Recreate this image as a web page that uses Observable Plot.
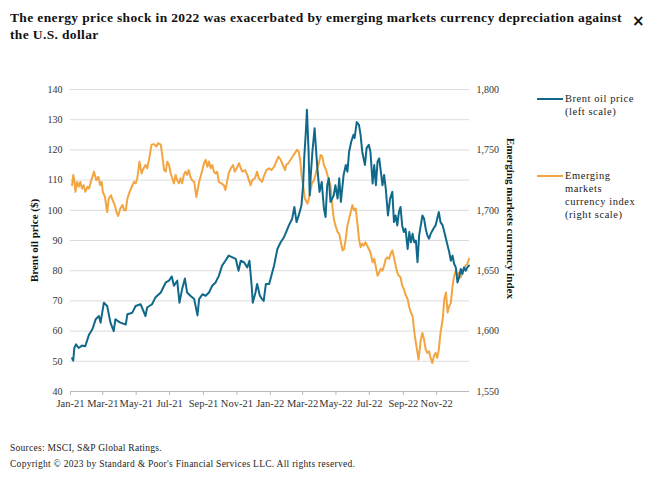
<!DOCTYPE html>
<html>
<head>
<meta charset="utf-8">
<script src="https://cdn.jsdelivr.net/npm/d3@7"></script>
<script src="https://cdn.jsdelivr.net/npm/@observablehq/plot@0.6"></script>
<style>
  html, body { margin: 0; padding: 0; background: #fff; }
  #wrap { position: relative; width: 660px; height: 488px; font-family: "Liberation Serif", "DejaVu Serif", serif; color: #111; }
  #title { position: absolute; left: 10px; top: 9px; font-size: 13.5px; font-weight: bold; line-height: 17px; letter-spacing: 0.36px; }
  #close { position: absolute; left: 632px; top: 12px; font-family: "DejaVu Sans", sans-serif; font-size: 15px; font-weight: bold; }
  #chart { position: absolute; left: 0; top: 50px; }
  .leg { position: absolute; font-size: 10.5px; line-height: 13px; letter-spacing: 0.55px; color: #222; }
  .swatch { position: absolute; height: 2px; width: 26px; }
  #foot { position: absolute; left: 10px; top: 440px; font-size: 9.5px; line-height: 16px; color: #222; letter-spacing: 0.27px; }
</style>
</head>
<body>
<div id="wrap">
  <div id="title">The energy price shock in 2022 was exacerbated by emerging markets currency depreciation against<br>the U.S. dollar</div>
  <div id="close">×</div>
  <div id="chart"></div>
  <div class="swatch" style="left:537px;top:98px;background:#10698a"></div>
  <div class="leg" style="left:565px;top:92px">Brent oil price<br>(left scale)</div>
  <div class="swatch" style="left:537px;top:175px;background:#f2a541"></div>
  <div class="leg" style="left:565px;top:169px">Emerging<br>markets<br>currency index<br>(right scale)</div>
  <div id="foot">Sources: MSCI, S&amp;P Global Ratings.<br>Copyright © 2023 by Standard &amp; Poor's Financial Services LLC. All rights reserved.</div>
</div>
<script>
// Days since 2021-01-01 and Brent oil price ($)
const brentDay = [3,5,7,10,15,21,27,34,40,46,52,55,61,67,73,79,82,91,101,104,113,119,128,137,140,149,155,165,174,180,185,189,195,199,204,209,213,219,226,
  232,235,241,247,253,259,265,271,277,283,289,296,302,307,311,317,323,327,331,333,338,341,346,350,353,357,363,367,372,378,384,390,394,399,405,409,413,417,422,425,427,430,432,435,437,439,442,446,448,451,455,459,463,466,469,472,
  475,481,484,488,491,494,499,503,506,509,513,517,519,523,527,530,533,538,541,545,548,552,555,558,561,564,567,570,573,576,580,584,588,591,594,597,600,603,606,609,612,616,619,622,625,628,631,634,637,640,643,646,649,652,655,658,663,667,670,673,676,680,683,686,689,692,695,698,701,704,707,710,713,716,719,722,725,728];
const brentPrice = [51,50.2,54.4,55.6,54.4,55.2,55,58.9,60.6,63.9,65,62.8,69.4,68.3,62.8,60,63.9,62.8,62.2,65.6,66.1,68.3,68.9,65,67.8,68.9,71.1,72.8,76.1,76.7,78.1,75,76.7,69.4,73.9,77.4,72.8,71.7,70.6,
  65.2,70.6,72.2,71.7,72.8,75,76.1,78.3,81.7,83.3,85,84.4,83.9,80,83.3,82.8,81.1,83.3,75,69.4,72.8,75.6,71.7,70.6,70,75.6,75.6,78.3,81.7,87.2,89.4,91.1,92.8,95,97.2,101.1,96.1,98.3,101.7,108.3,117.2,126.1,133.3,119.4,105,111.7,119.4,127.2,121.7,113.9,106.1,109.4,100.6,97.8,108.3,110.6,
  102.8,105,108.3,103.9,110.6,102.8,111.7,115,112.8,119.4,122.8,125,123.9,129.2,128.3,125,119.4,115,120.6,121.7,119.4,108.9,115,108.3,116.1,117.2,112.8,108.3,111.7,107.2,98.3,103.9,106.1,96.1,98.3,95,99.4,101.1,95,92.8,93.9,87.2,92.8,89.4,92.2,89.4,90,82.8,91.7,95,98.3,97.2,93.9,91.7,90.6,92.2,93.9,95,97.2,99.4,96.1,95,92.8,90.6,88.3,86.1,83.3,85,82.2,81.1,76.1,77.8,80.6,78.9,81.1,80,81.1,81.7];

// Days since 2021-01-01 and emerging markets currency index
const emDay = [3,5,7,9,12,15,18,21,24,27,31,34,37,43,47,51,54,57,59,63,67,70,74,77,81,84,87,91,95,98,101,104,108,112,116,119,122,126,130,132,137,140,144,148,152,157,160,165,168,171,174,177,180,183,186,189,192,195,198,201,204,207,210,213,216,219,222,226,230,
  235,240,244,247,250,253,256,259,262,265,268,271,276,280,283,286,289,293,297,300,305,308,311,314,319,323,326,329,332,337,341,344,347,350,353,358,363,367,372,376,380,384,388,392,394,398,402,406,410,414,417,420,422,425,428,433,437,441,445,449,453,457,460,463,467,471,475,478,
  481,484,488,491,494,497,500,503,506,509,512,515,518,521,524,527,530,533,536,539,542,545,548,552,555,558,561,564,567,570,573,576,579,582,585,588,591,594,597,600,603,606,609,612,616,619,622,625,628,631,634,636,640,643,646,649,652,655,658,661,664,667,670,673,676,680,683,686,689,692,695,698,701,704,707,710,713,716,719,722,725,728];
const emIndex = [1720.8,1729.3,1725,1715.3,1723.5,1719.5,1723.5,1718,1720.8,1715.3,1719.5,1718,1723.5,1732,1725,1727.8,1720.8,1723.5,1715.3,1711,1698.5,1709.8,1712.5,1708.3,1704.3,1698.5,1695.3,1701.5,1704.3,1700,1700,1709.8,1715.3,1719.5,1723.5,1722.3,1726.5,1740.3,1730.5,1733.3,1737.5,1734.8,1743,1754.3,1754.8,1752.8,1755.5,1754.3,1744.5,1733.3,1732,1740.3,1737.5,1730.5,1726.5,1722.3,1729.3,1725,1722.3,1726.5,1722.3,1729.3,1732,1729.3,1733.3,1727.8,1725,1723.5,1711,
  1723.5,1732,1739,1741.8,1736,1740.3,1734.8,1737.5,1732,1730.5,1732,1723.5,1722.3,1720.8,1716.8,1723.5,1730.5,1734.8,1737.5,1732,1736,1739,1734.8,1732,1733.3,1729.3,1725,1720.8,1725,1726.5,1732,1726.5,1725,1723.5,1727.8,1733.3,1734.8,1733.3,1736,1740.3,1744.5,1741.8,1737.5,1733.3,1737.5,1739,1741.8,1744.5,1747.3,1750,1748.5,1740.3,1729.3,1720.8,1709.8,1705.5,1712.5,1722.3,1725,1732,1737.5,1745.8,1744.5,1737.5,1733.3,1726.5,1720.8,1705.5,
  1693,1687.5,1682,1680.5,1673.5,1666.8,1668,1676.5,1687.5,1693,1698.5,1704.3,1700,1701.5,1690.3,1676.5,1669.5,1672.3,1670.8,1673.5,1670.8,1668,1665.3,1657,1659.8,1652.8,1645.8,1648.5,1651.5,1650,1654.3,1659.8,1661,1659.8,1664,1666.8,1661,1654.3,1648.5,1645.8,1644.5,1637.5,1634.8,1630.5,1626.5,1619.5,1615.3,1612.5,1600,1590.3,1582,1576.5,1593,1598.5,1593,1584.8,1582,1583.3,1577.8,1573.5,1579.3,1582,1577.8,1584.8,1598.5,1609.8,1626.5,1632,1615.3,1620.8,1623.5,1637.5,1645.8,1650,1645.8,1648.5,1644.5,1650,1651.5,1654.3,1655.5,1659.8];

const leftTicks = [40,50,60,70,80,90,100,110,120,130,140];
const rightTicks = [1550,1600,1650,1700,1750,1800];
const monthTicks = ["2021-01-01","2021-03-01","2021-05-01","2021-07-01","2021-09-01","2021-11-01","2022-01-01","2022-03-01","2022-05-01","2022-07-01","2022-09-01","2022-11-01"];

const teal = "#10698a", orange = "#f2a541";
const t0 = Date.UTC(2021, 0, 1);
const toDate = d => new Date(t0 + d * 864e5);
const brent = brentDay.map((d, i) => ({date: toDate(d), value: brentPrice[i]}));
const em = emDay.map((d, i) => ({date: toDate(d), value: emIndex[i]}));
// right scale (1,550-1,800) aligned with left scale (40-140)
const rightToLeft = v => (v - 1450) / 2.5;
const leftToRight = v => 1450 + 2.5 * v;

const chart = Plot.plot({
  width: 660,
  height: 380,
  marginTop: 39,
  marginBottom: 39,
  marginLeft: 70,
  marginRight: 191,
  style: {fontFamily: "Liberation Serif, serif", fontSize: "10px", color: "#333", background: "transparent"},
  x: {type: "utc", domain: [new Date(t0), new Date(Date.UTC(2022, 11, 31))]},
  y: {domain: [40, 140]},
  marks: [
    Plot.gridY(leftTicks, {stroke: "#dcdcdc", strokeOpacity: 1, strokeWidth: 1}),
    Plot.ruleY([40], {stroke: "#b8b8b8"}),
    Plot.axisY(leftTicks, {anchor: "left", tickSize: 0, tickPadding: 8, label: null, fill: "#333"}),
    Plot.axisY(rightTicks.map(rightToLeft), {anchor: "right", tickSize: 0, tickPadding: 7, label: null, fill: "#333",
      tickFormat: v => d3.format(",")(Math.round(leftToRight(v)))}),
    Plot.axisX(monthTicks.map(s => new Date(s + "T00:00:00Z")), {tickSize: 4, tickPadding: 4, stroke: "#b8b8b8", fill: "#333",
      tickFormat: d3.utcFormat("%b-%y"), label: null, fontSize: 10.5, style: {letterSpacing: "0.4px"}}),
    Plot.lineY(em, {x: "date", y: d => rightToLeft(d.value), stroke: orange, strokeWidth: 2}),
    Plot.lineY(brent, {x: "date", y: "value", stroke: teal, strokeWidth: 2}),
    Plot.text(["Brent oil price ($)"], {frameAnchor: "left", textAnchor: "middle", dx: -36, rotate: -90, fontWeight: "bold", fontSize: 11, fill: "#111"}),
    Plot.text(["Emerging markets currency index"], {frameAnchor: "right", textAnchor: "middle", dx: 41, dy: -22, rotate: 90, fontWeight: "bold", fontSize: 11, fill: "#111"})
  ]
});
document.getElementById("chart").appendChild(chart);
</script>
</body>
</html>
